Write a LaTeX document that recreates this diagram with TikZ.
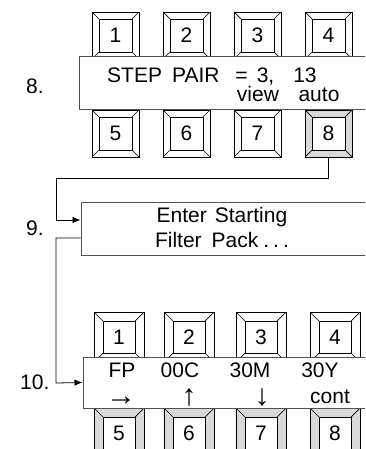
\documentclass[tikz,border=0pt]{standalone}
\usepackage{fontspec}
\setmainfont{Liberation Sans}
\usetikzlibrary{arrows.meta}
\definecolor{bevelgray}{HTML}{D9D9D9}
\definecolor{boxline}{HTML}{505050}
\tikzset{
  keyouter/.style={draw=black, line width=0.7pt, inner sep=0pt, outer sep=0pt},
  keyinner/.style={draw=black, line width=0.7pt, inner sep=0pt, outer sep=0pt, fill=white},
  keyline/.style={draw=black, line width=0.7pt},
  display/.style={draw=boxline, line width=1pt, fill=white, inner sep=0pt},
  txt/.style={inner sep=0pt, anchor=base},
  arr/.style={inner sep=0pt, anchor=base, font=\fontsize{30pt}{30pt}\selectfont},
  conn/.style={draw=black, line width=0.8pt},
  tip/.style={-{Latex[length=8pt,width=6.5pt]}}
}
\newcommand{\kbox}[7]{%
  \node[keyouter, fill=#7, minimum size=#4pt] (#1o) at (#2+#4/2, #3+#4/2) {};
  \node[keyinner, minimum size=#4pt-2*#5pt] (#1) at (#2+#4/2, #3+#4/2) {#6};
  \draw[keyline] (#1o.north west) -- (#1.north west) (#1o.north east) -- (#1.north east)
    (#1o.south west) -- (#1.south west) (#1o.south east) -- (#1.south east);
}
\begin{document}
\begin{tikzpicture}[x=1pt,y=-1pt,font=\fontsize{21pt}{24pt}\selectfont]
\useasboundingbox (0,0) rectangle (365,449);
\clip (0,0) rectangle (365,449);
% panel 8 keys
\kbox{a1}{92}{12}{47}{7}{1}{white}
\kbox{a2}{163}{12}{47}{7}{2}{white}
\kbox{a3}{234}{12}{47}{7}{3}{white}
\kbox{a4}{305}{12}{47}{7}{4}{white}
\kbox{a5}{92}{110}{47}{7}{5}{white}
\kbox{a6}{163}{110}{47}{7}{6}{white}
\kbox{a7}{234}{110}{47}{7}{7}{white}
\kbox{a8}{305}{110}{47}{7}{8}{bevelgray}
\node[display, minimum width=293pt, minimum height=53pt] (d8) at (225.5,83.5) {};
\node[txt, anchor=base west] (t8a) at (107,83) {STEP\hspace{10pt}PAIR\hspace{16pt}=\hspace{9pt}3,\hspace{19pt}13};
\node[txt] (t8b) at (258,102) {view};
\node[txt] (t8c) at (319,102) {auto};
\node[txt, anchor=base west] (l8) at (26,94) {8.};
% panel 9
\node[display, minimum width=291pt, minimum height=53pt] (d9) at (226.5,228.5) {};
\node[txt] (t9a) at (222,222) {Enter\hspace{8pt}Starting};
\node[txt] (t9b) at (222,247) {Filter\hspace{10pt}Pack\hspace{5pt}.\hspace{4pt}.\hspace{4pt}.};
\node[txt, anchor=base west] (l9) at (26,235) {9.};
% panel 10 keys
\kbox{b1}{94}{312}{50}{9}{1}{white}
\kbox{b2}{164}{312}{50}{9}{2}{white}
\kbox{b3}{236}{312}{50}{9}{3}{white}
\kbox{b4}{310}{312}{50}{9}{4}{white}
\kbox{b5}{94}{408}{50}{9}{5}{bevelgray}
\kbox{b6}{164}{408}{50}{9}{6}{bevelgray}
\kbox{b7}{236}{408}{50}{9}{7}{bevelgray}
\kbox{b8}{310}{408}{50}{9}{8}{bevelgray}
\node[display, minimum width=289pt, minimum height=51pt] (d10) at (227.5,382.5) {};
\node[txt] (t10a) at (122,377) {FP};
\node[txt] (t10b) at (180,377) {00C};
\node[txt] (t10c) at (250,377) {30M};
\node[txt] (t10d) at (320,377) {30Y};
\node[arr] (t10e) at (121,405) {→};
\node[arr] (t10f) at (189,405) {↑};
\node[arr] (t10g) at (262,405) {↓};
\node[txt] (t10h) at (330,403) {cont};
\node[txt, anchor=base west] (l10) at (20,389) {10.};
% connectors
\coordinate (c1) at (56,178);
\coordinate (c2) at (56,383);
\draw[conn, tip] (a8o.south) |- (c1) |- ([yshift=8.5pt]d9.west);
\draw[conn, tip] ([yshift=-9.5pt]d9.west) -| (c2) -- (d10.west);
\end{tikzpicture}
\end{document}
